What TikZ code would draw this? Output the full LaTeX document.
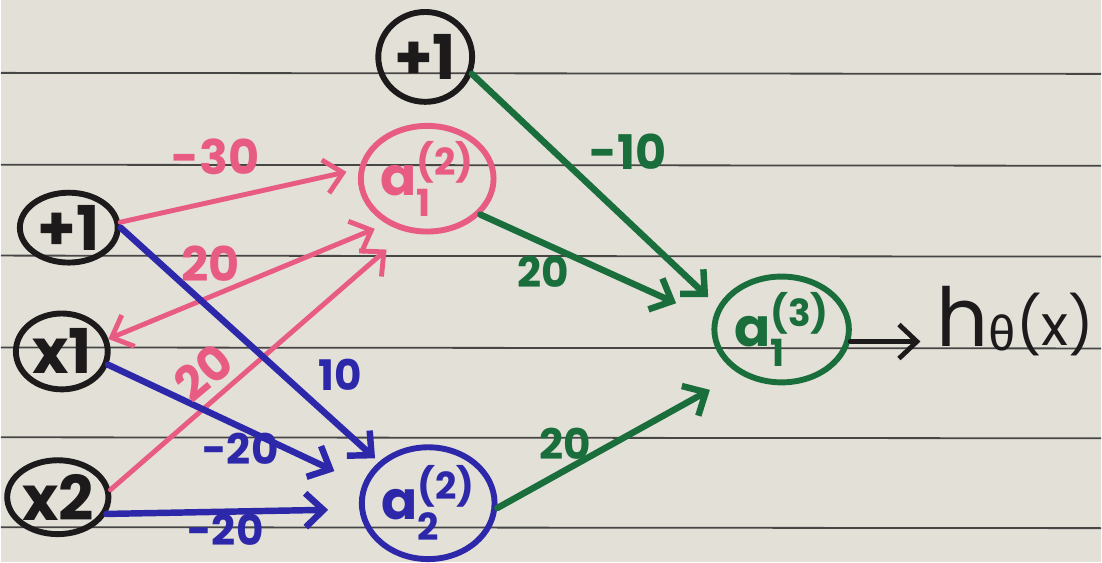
\documentclass[tikz,border=0pt]{standalone}
\usepackage{fontspec}
\usepackage{amsmath}
\setmainfont{Poppins}
\newfontfamily\grk{Fira Sans}
\usetikzlibrary{arrows.meta,shapes.geometric}
\definecolor{paper}{RGB}{227,224,216}
\definecolor{rulec}{RGB}{70,70,68}
\definecolor{pk}{RGB}{232,92,132}
\definecolor{bl}{RGB}{45,40,170}
\definecolor{gr}{RGB}{25,110,60}
\definecolor{ink}{RGB}{28,26,26}
\begin{document}
\begin{tikzpicture}[x=0.25mm,y=-0.25mm,
  neuron/.style={ellipse,draw=#1,text=#1,line width=4.2pt,inner sep=0pt},
  bias/.style={neuron=ink,font=\fontsize{44}{44}\selectfont\bfseries},
  act/.style={neuron=#1,font=\fontsize{38}{38}\selectfont\bfseries},
  lbl/.style={text=#1,inner sep=0pt,font=\fontsize{34}{34}\selectfont\bfseries},
  slbl/.style={text=#1,inner sep=0pt,font=\fontsize{30}{30}\selectfont\bfseries},
  conn/.style={draw=#1,line width=4.6pt,line cap=round,-{Straight Barb[length=4.5mm,width=8.5mm]}},
  pkconn/.style={draw=pk,line width=3.5pt,line cap=round,-{Straight Barb[length=4.5mm,width=8.5mm]}}
]
\fill[paper] (0,0) rectangle (1102,563);
\foreach \yy in {73,165,256,348,438,528} \draw[rulec,line width=0.45mm] (0,\yy) -- (1102,\yy+1);
\useasboundingbox (0,0) rectangle (1102,563);

% nodes
\node[bias,minimum width=24.5mm,minimum height=17.5mm] (b1) at (68,228) {+1};
\node[bias,minimum width=23mm,minimum height=19mm] (x1) at (61,352) {x1};
\node[bias,minimum width=22mm,minimum height=18.5mm] (x2) at (57,498) {x2};
\node[bias,minimum width=23.5mm,minimum height=22.5mm] (b2) at (425,57) {+1};
\node[act=pk,minimum width=26mm,minimum height=24.5mm] (a12) at (427,179) {$\text{a}^{\text{(2)}}_{\text{1}}$};
\node[act=bl,minimum width=29mm,minimum height=28mm] (a22) at (428,504) {$\text{a}^{\text{(2)}}_{\text{2}}$};
\node[act=gr,minimum width=26.5mm,minimum height=26.5mm] (a13) at (782,330) {$\text{a}^{\text{(3)}}_{\text{1}}$};
\node[anchor=base west,text=ink,inner sep=0pt] (h) at (937,347)
  {{\fontsize{58}{58}\selectfont h}\raisebox{-0.3em}{\fontsize{34}{34}\selectfont\grk θ}\raisebox{0.08em}{\fontsize{40}{40}\selectfont(x)}};

% pink connectors
\draw[pkconn,shorten >=3.2mm] (b1.6) -- (a12.172);
\draw[pkconn,{Straight Barb[length=4.5mm,width=8.5mm]}-{Straight Barb[length=4.5mm,width=8.5mm]},shorten >=3.2mm] (x1.15) -- (a12.228);
\draw[pkconn,shorten >=6.7mm] (x2.8) -- (a12.249);
% blue connectors
\draw[conn=bl,shorten >=1.3mm] (b1.0) -- (a22.140);
\draw[conn=bl,shorten >=7.8mm] (x1.344) -- (a22.164);
\draw[conn=bl,shorten >=7.8mm] (x2.341) -- (a22.185);
% green connectors
\draw[conn=gr,shorten >=3.3mm] (b2.340) -- (a13.160);
\draw[conn=gr,shorten >=10mm] (a12.326) -- (a13.172);
\draw[conn=gr,shorten >=8.3mm] (a22.356) -- (a13.226);
% output
\draw[conn=ink,line width=3.4pt,shorten >=4mm] (a13.350) -- (a13.350 -| h.west);

% labels
\node[lbl=pk] (w1) at (215,157) {-30};
\node[lbl=pk] (w2) at (210,264) {20};
\node[lbl=pk,rotate=40] (w3) at (203,373) {20};
\node[slbl=bl] (w4) at (340,375) {10};
\node[slbl=bl] (w5) at (240,450) {-20};
\node[slbl=bl] (w6) at (225,531) {-20};
\node[lbl=gr] (w7) at (628,152) {-10};
\node[slbl=gr] (w8) at (543,272) {20};
\node[slbl=gr] (w9) at (565,445) {20};
\end{tikzpicture}
\end{document}
